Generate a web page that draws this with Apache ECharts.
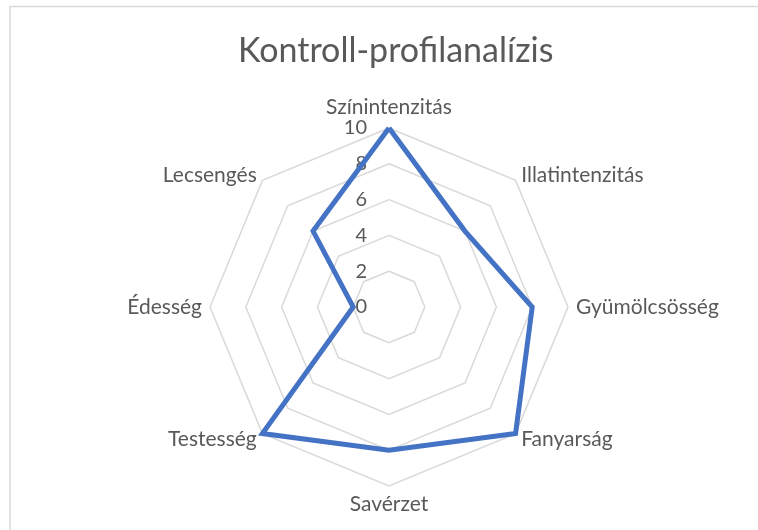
<!DOCTYPE html>
<html>
<head>
<meta charset="utf-8">
<title>Kontroll-profilanalízis</title>
<script src="https://cdn.jsdelivr.net/npm/echarts@6/dist/echarts.min.js"></script>
<style>
  html, body { margin: 0; padding: 0; background: #fff; }
  #chart { width: 758px; height: 530px; }
</style>
</head>
<body>
<div id="chart"></div>
<script>
// adatok (óramutató járásával egyező sorrendben, felülről indulva)
var categories = ['Színintenzitás', 'Illatintenzitás', 'Gyümölcsösség', 'Fanyarság',
                  'Savérzet', 'Testesség', 'Édesség', 'Lecsengés'];
var values = [10, 6, 8, 10, 8, 10, 2, 6];
var axisMax = 10;

var textColor = '#595959';
var font = 'Lato';

// az ECharts radar az óramutatóval ellentétesen halad, ezért megfordítjuk (az első marad felül)
var order = [0];
for (var i = categories.length - 1; i > 0; i--) order.push(i);

var indicators = order.map(function (k, i) {
    var ind = { name: categories[k], min: 0, max: axisMax };
    if (i === 0) {
        ind.axisLabel = { show: true };   // skálaértékek csak a felső tengelyen
    }
    return ind;
});
var seriesValues = order.map(function (k) { return values[k]; });

var myChart = echarts.init(document.getElementById('chart'));
myChart.setOption({
    animation: false,
    title: {
        text: 'Kontroll-profilanalízis',
        left: 233,
        top: 29,
        textStyle: { fontFamily: font, fontSize: 34, fontWeight: 'normal', color: textColor }
    },
    graphic: [{
        type: 'rect',
        shape: { x: 10, y: 6.5, width: 800, height: 600 },
        style: { fill: 'none', stroke: '#d9d9d9', lineWidth: 1.5 },
        silent: true
    }],
    radar: {
        center: [389, 307],
        radius: 179,
        startAngle: 90,
        shape: 'polygon',
        splitNumber: 5,
        indicator: indicators,
        nameGap: 8,
        axisName: { color: textColor, fontFamily: font, fontSize: 21 },
        axisLine: { show: false },
        axisTick: { show: false },
        axisLabel: { show: false, color: textColor, fontFamily: font, fontSize: 20, margin: 22 },
        splitLine: { lineStyle: { color: '#d9d9d9', width: 1.5 } },
        splitArea: { show: false }
    },
    series: [{
        type: 'radar',
        symbol: 'none',
        lineStyle: { color: '#4472c4', width: 5, join: 'miter' },
        data: [{ value: seriesValues, name: 'Kontroll' }]
    }]
});
</script>
</body>
</html>
